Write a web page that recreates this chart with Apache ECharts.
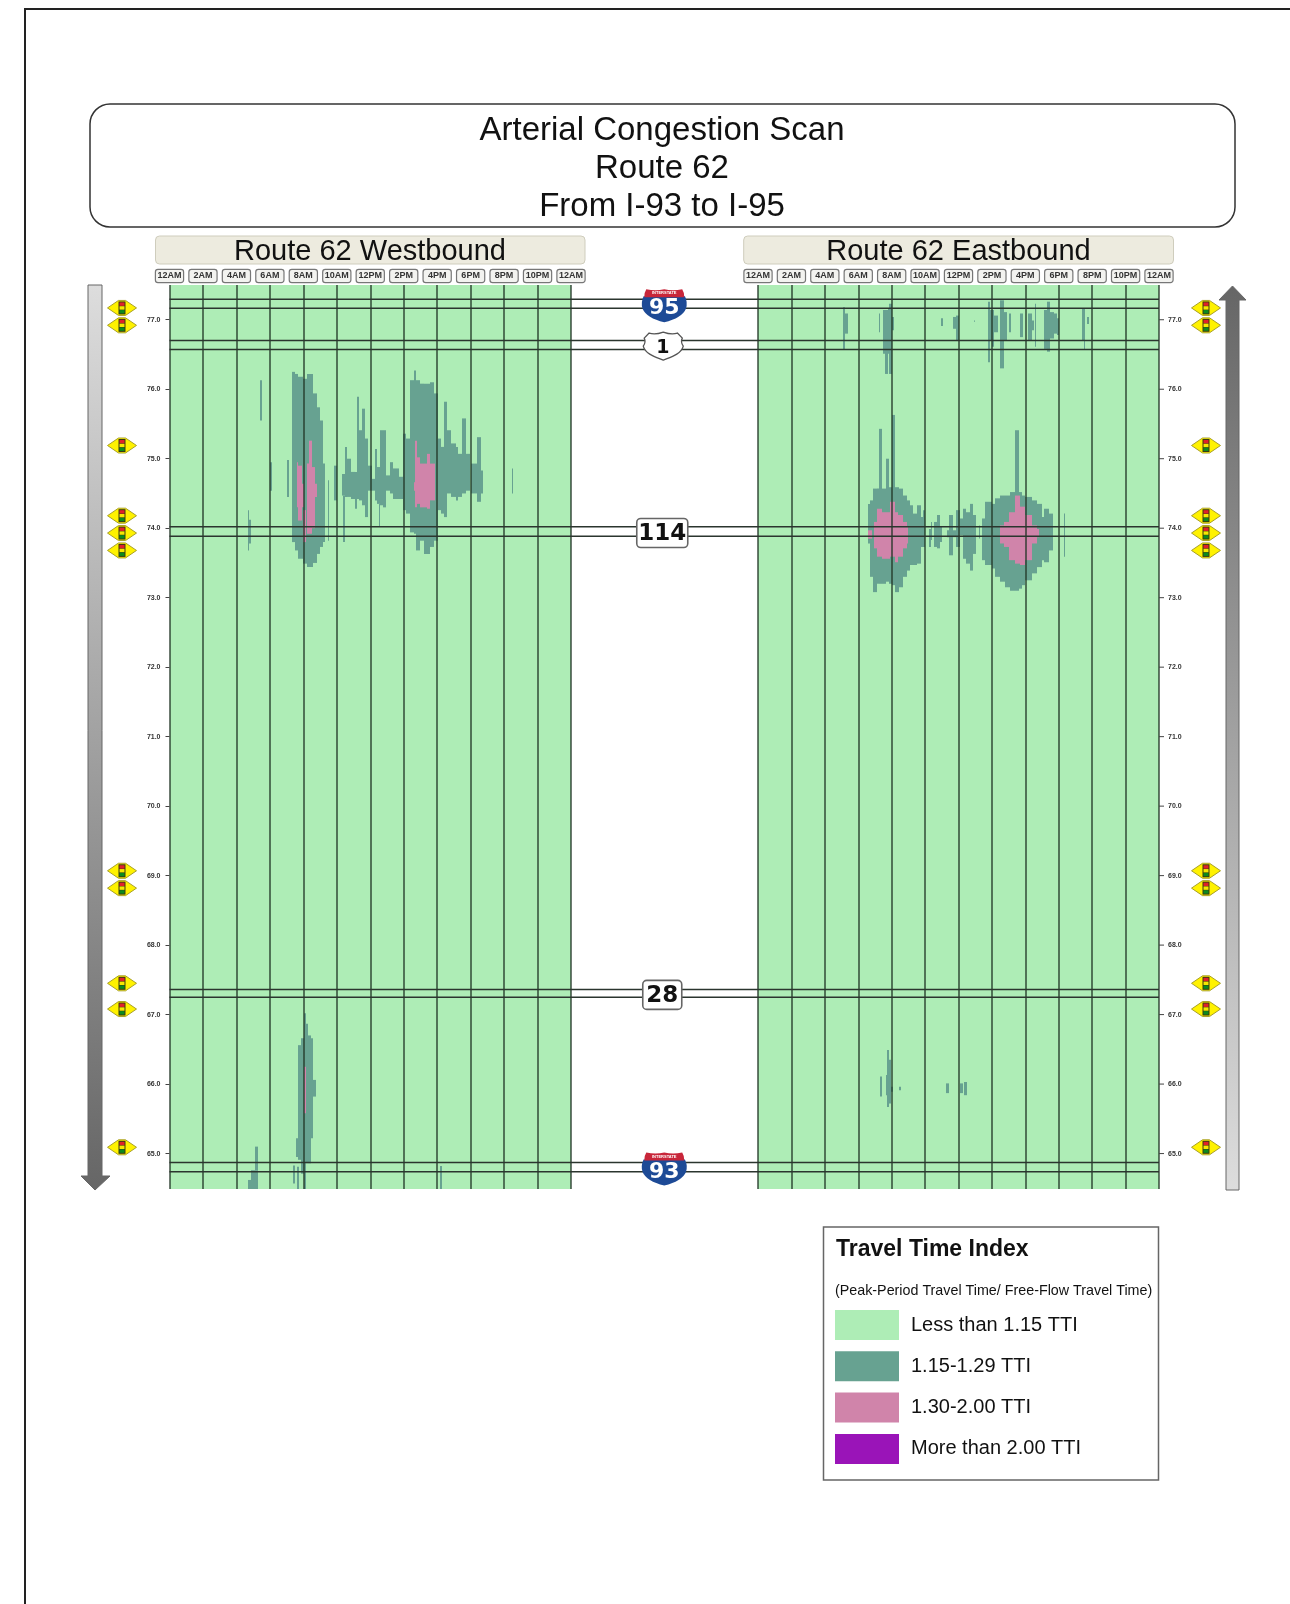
<!DOCTYPE html>
<html>
<head>
<meta charset="utf-8">
<script src="https://cdn.jsdelivr.net/npm/echarts@6/dist/echarts.min.js"></script>
<style>html,body{margin:0;padding:0;background:#fff}#c{width:1290px;height:1604px;filter:blur(0.45px)}</style>
</head>
<body>
<div id="c"></div>
<script>
// Axis values
const timeLabels = ['12AM','2AM','4AM','6AM','8AM','10AM','12PM','2PM','4PM','6PM','8PM','10PM','12AM'];
const mileTicks = [65,66,67,68,69,70,71,72,73,74,75,76,77];
const mileMin = 64.49, mileMax = 77.5;

// Each record: [hour start, hour end, milepost low, milepost high]
const wbFree = [[0,24,mileMin,mileMax]];
const ebFree = [[0,24,mileMin,mileMax]];
const wbTeal = [
[4.7,4.78,73.68,74.26],[4.78,4.85,73.78,74.12],[5.4,5.5,75.55,76.13],[6.0,6.1,74.54,74.95],
[7.0,7.16,74.45,74.98],[7.3,7.5,73.80,76.25],[7.5,7.7,73.68,76.22],[7.7,8.0,73.56,76.18],[8.0,8.2,73.49,76.15],
[8.2,8.6,73.44,76.22],[8.6,8.8,73.50,75.94],[8.8,9.0,73.63,75.74],[9.0,9.15,73.73,75.55],[9.15,9.3,73.80,74.93],
[9.46,9.56,73.82,74.69],[9.84,10.04,74.40,74.90],[10.32,10.48,74.47,74.78],[10.4,10.52,73.80,74.47],
[10.48,10.64,74.45,75.17],[10.64,10.84,74.45,75.0],[10.84,11.1,74.42,74.81],[11.1,11.2,74.28,74.81],
[11.2,11.32,74.42,75.89],[11.32,11.5,74.40,75.41],[11.5,11.7,74.33,75.72],[11.7,11.84,74.16,75.29],
[11.84,12.1,74.54,74.90],[12.1,12.3,74.54,74.71],[12.3,12.4,74.40,75.14],[12.4,12.6,74.35,74.88],
[12.5,12.6,74.02,74.35],[12.6,12.76,74.33,75.41],[12.76,12.96,74.30,75.41],[12.96,13.16,74.54,74.76],
[13.16,13.36,74.50,74.95],[13.36,13.7,74.42,74.86],[13.7,13.96,74.42,74.74],[13.96,14.12,74.26,75.36],
[14.12,14.36,74.21,75.29],[14.36,14.6,73.94,76.13],[14.6,14.76,73.92,76.27],[14.76,15.0,73.68,76.13],
[15.0,15.2,73.82,76.08],[15.2,15.6,73.63,76.08],[15.6,15.8,73.73,76.10],[15.8,16.04,73.82,75.94],
[16.04,16.2,74.26,75.29],[16.2,16.4,74.21,75.17],[16.4,16.6,74.16,75.82],[16.6,16.84,74.50,75.41],
[16.84,17.1,74.45,75.22],[17.1,17.24,74.40,75.17],[17.24,17.5,74.45,75.07],[17.5,17.7,74.50,75.58],
[17.7,17.96,74.54,75.07],[18.04,18.4,74.50,74.93],[18.4,18.6,74.38,75.31],[18.6,18.76,74.50,74.83],
[20.45,20.55,74.50,74.86],
[7.56,7.7,64.95,65.22],[7.7,7.84,64.91,66.56],[7.84,8.04,64.71,66.66],[8.04,8.16,64.49,67.02],[8.16,8.3,64.86,66.87],
[8.3,8.44,64.86,66.70],[8.44,8.56,65.22,66.66],[8.56,8.74,65.82,66.06],[7.4,7.52,64.57,64.83],[7.6,7.72,64.49,64.81],
[5.1,5.3,64.76,65.10],[4.9,5.3,64.49,64.76],[4.7,4.9,64.49,64.62],[16.14,16.26,64.49,64.82]
];
const wbPink = [
[7.6,7.7,74.30,74.95],[7.7,7.9,74.11,74.90],[7.9,8.04,74.30,74.64],[8.0,8.16,73.80,74.26],[8.2,8.36,73.92,74.93],
[8.36,8.52,73.92,75.26],[8.52,8.72,74.0,74.88],[8.72,8.84,74.45,74.64],[14.6,14.66,74.54,74.66],[14.66,14.8,74.30,75.26],
[14.8,15.0,74.35,75.02],[15.0,15.4,74.30,74.93],[15.4,15.6,74.28,75.07],[15.6,15.9,74.40,74.93],[8.04,8.16,65.58,66.25]
];
const ebTeal = [
[6.56,6.7,73.78,74.35],[6.7,6.9,73.30,74.40],[6.9,7.1,73.08,74.57],[7.1,7.26,73.20,74.57],[7.26,7.4,73.20,75.43],
[7.4,7.66,73.20,74.57],[7.66,7.84,73.23,75.0],[7.84,8.0,73.20,74.59],[8.0,8.2,73.18,75.63],[8.2,8.46,73.08,74.59],
[8.46,8.7,73.15,74.57],[8.7,8.9,73.30,74.47],[8.9,9.1,73.39,74.40],[9.1,9.3,73.47,74.33],[9.3,9.54,73.47,74.21],
[9.54,9.74,73.49,74.33],[9.74,9.86,73.73,74.16],[9.9,10.0,73.73,74.26],[10.26,10.34,73.73,73.99],[10.34,10.42,73.83,74.09],
[10.56,10.7,73.73,74.09],[10.7,10.9,73.71,74.19],[10.9,11.02,73.80,74.02],[11.3,11.46,73.87,73.97],[11.46,11.7,73.61,74.19],
[11.7,11.86,73.87,73.97],[11.86,12.06,73.73,74.26],[12.06,12.26,73.90,74.14],[12.26,12.46,73.56,74.28],[12.46,12.7,73.49,74.23],
[12.7,12.86,73.39,74.35],[12.86,13.06,73.63,74.19],[13.2,13.3,73.85,74.04],[13.4,13.6,73.54,74.14],[13.6,14.0,73.47,74.38],
[14.0,14.2,73.42,74.35],[14.2,14.5,73.30,74.43],[14.5,14.8,73.23,74.47],[14.8,15.1,73.15,74.47],[15.1,15.4,73.10,74.52],
[15.4,15.6,73.10,75.41],[15.6,15.8,73.13,74.52],[15.8,16.0,73.18,74.47],[16.0,16.4,73.25,74.45],[16.4,16.7,73.35,74.40],
[16.7,17.0,73.44,74.35],[17.0,17.14,73.54,74.16],[17.14,17.4,73.51,74.28],[17.4,17.64,73.68,74.21],[18.3,18.4,73.59,74.21],
[5.06,5.2,76.58,77.18],[5.2,5.38,76.80,77.09],[7.22,7.32,76.82,77.09],[7.46,7.6,76.51,77.14],[7.6,7.8,76.22,77.14],
[7.8,7.86,76.51,77.16],[7.86,8.0,76.22,77.23],[8.0,8.14,76.85,77.04],[10.96,11.06,76.91,77.02],[11.66,11.86,76.87,77.04],
[11.86,12.02,76.70,77.06],[12.9,12.96,76.97,76.99],[13.74,13.86,76.39,77.26],[13.86,14.0,76.70,77.14],[14.0,14.1,76.61,77.14],
[14.1,14.36,76.82,77.06],[14.5,14.74,76.30,77.28],[14.74,14.9,76.70,77.11],[15.04,15.16,76.82,77.09],[15.7,15.86,76.75,77.09],
[16.14,16.42,76.70,77.09],[16.42,16.5,76.85,76.99],[16.56,16.66,76.61,77.23],[17.1,17.3,76.58,77.14],[17.3,17.5,76.54,77.26],
[17.5,17.74,76.73,77.11],[17.74,17.9,76.80,77.09],[17.9,18.02,76.78,77.02],[19.4,19.5,76.70,77.16],[19.5,19.6,76.58,77.16],
[19.7,19.82,76.94,77.04],
[7.3,7.4,65.82,66.11],[7.66,7.78,65.84,66.13],[7.74,7.86,65.67,66.49],[7.78,7.94,65.72,66.35],[7.94,8.06,65.89,65.96],
[8.46,8.58,65.91,65.96],[11.26,11.42,65.87,66.01],[12.1,12.24,65.87,66.01],[12.34,12.5,65.84,66.03]
];
const ebPink = [
[6.6,6.8,73.85,73.97],[6.96,7.1,73.71,74.09],[7.1,7.4,73.59,74.28],[7.4,7.9,73.56,74.23],[7.9,8.2,73.59,74.38],
[8.2,8.4,73.51,74.23],[8.4,8.7,73.59,74.19],[8.7,8.9,73.71,74.09],[8.9,9.0,73.78,74.02],[14.5,14.7,73.78,74.04],
[14.7,15.0,73.73,74.09],[15.0,15.4,73.54,74.23],[15.4,15.66,73.49,74.47],[15.66,16.0,73.47,74.31],[16.0,16.4,73.54,74.19],
[16.4,16.7,73.78,74.04],[16.7,16.84,73.87,73.99]
];
const severeData = [];

const signalMileposts = [77.17,76.92,75.19,74.18,73.93,73.68,69.07,68.82,67.45,67.08,65.09];
const roadNames = ['95','1','114','28','93'];
const roadKinds = ['interstate','us','state','state','interstate'];
const roadNorth = [77.295,76.70,74.02,67.36,64.87];
const roadSouth = [77.165,76.57,73.885,67.25,64.74];

const levelNames = ['Less than 1.15 TTI','1.15-1.29 TTI','1.30-2.00 TTI','More than 2.00 TTI'];
const levelColors = ['#AEEDB6','#67A291','#D084AA','#9A14B8'];

const FONT = '"Liberation Sans", Arial, sans-serif';
const chart = echarts.init(document.getElementById('c'), null, {renderer:'canvas', width:1290, height:1604});

function renderBand(params, api){
  const a = api.coord([api.value(0), api.value(3)]);
  const b = api.coord([api.value(1), api.value(2)]);
  const x0 = Math.round(a[0]), x1 = Math.max(x0+1, Math.round(b[0]));
  return {type:'rect', shape:{x:x0, y:a[1], width:x1-x0, height:b[1]-a[1]}, style:{fill:api.visual('color')}};
}
function band(level, data, idx){
  return {type:'custom', name:levelNames[level], xAxisIndex:idx, yAxisIndex:idx, data:data,
    encode:{x:[0,1], y:[2,3]}, renderItem:renderBand, itemStyle:{color:levelColors[level]},
    z:level+1, silent:true, clip:true, animation:false};
}
function renderSignal(dx, hour){
  return function(params, api){
    const p = api.coord([hour, api.value(0)]);
    const x = p[0]+dx, y = p[1];
    return {type:'group', children:[
      {type:'polygon', shape:{points:[[x-14.5,y],[x-3.5,y-7.5],[x+3.5,y-7.5],[x+14.5,y],[x+3.5,y+7.5],[x-3.5,y+7.5]]}, style:{fill:'#FFF200', stroke:'#A8A028', lineWidth:1}},
      {type:'rect', shape:{x:x-3.5,y:y-6.5,width:7,height:13}, style:{fill:'#3a3a10'}},
      {type:'rect', shape:{x:x-2.5,y:y-5.5,width:5,height:3.4}, style:{fill:'#E0202A'}},
      {type:'rect', shape:{x:x-2.5,y:y-1.7,width:5,height:3.4}, style:{fill:'#F5E800'}},
      {type:'rect', shape:{x:x-2.5,y:y+2.1,width:5,height:3.4}, style:{fill:'#0C8A1E'}}
    ]};
  };
}
function signal(idx, dx, hour){
  return {type:'custom', xAxisIndex:idx, yAxisIndex:idx, data:signalMileposts.map(v=>[v]),
    encode:{y:0}, renderItem:renderSignal(dx,hour), z:8, silent:true, clip:false, animation:false};
}
function renderRightTick(params, api){
  const p = api.coord([24, api.value(0)]);
  return {type:'line', shape:{x1:p[0], y1:p[1], x2:p[0]+5, y2:p[1]}, style:{stroke:'#444', lineWidth:1}};
}
const interstateBody = 'M2 8 L43 8 Q46 14 44 20 Q40 29 22.5 33 Q5 29 1 20 Q-1 14 2 8 Z';
const interstateTop = 'M3 8 Q3 3 5 0 Q14 2 22.5 0 Q31 2 40 0 Q42 3 42 8 Z';
const usShield = 'M6 1 Q12 3 20.5 0 Q29 3 35 1 L40 6 Q38 10 41 14 C39 22 28 25 20.5 28 C13 25 2 22 0 14 Q3 10 1 6 Z';
function renderRoad(params, api){
  const i = params.dataIndex;
  const n = api.coord([0, api.value(0)]), s = api.coord([0, api.value(1)]);
  const right = api.coord([1, api.value(0)])[0];
  const cx = api.coord([0.4985, api.value(0)])[0];
  const cy = (n[1]+s[1])/2;
  const line = y => ({type:'line', shape:{x1:n[0],y1:y,x2:right,y2:y}, style:{stroke:'#2b352e', lineWidth:1.5}});
  const kids = [line(n[1]), line(s[1])];
  const kind = roadKinds[i], name = roadNames[i];
  if(kind==='interstate'){
    const top = cy-14.5, ix = cx+1.5;
    kids.push({type:'path', shape:{pathData:interstateBody, x:ix-22.5, y:top+7, width:45, height:26, layout:'cover'}, style:{fill:'#1D4A96'}});
    kids.push({type:'path', shape:{pathData:interstateTop, x:ix-20, y:top, width:40, height:8, layout:'cover'}, style:{fill:'#C8263A'}});
    kids.push({type:'text', x:ix, y:top+4, style:{text:'INTERSTATE', fill:'#fff', font:'bold 4px '+FONT, align:'center', verticalAlign:'middle'}});
    kids.push({type:'text', x:ix, y:top+19.5, style:{text:name, fill:'#fff', font:'bold 22px "DejaVu Sans", sans-serif', align:'center', verticalAlign:'middle'}});
  } else if(kind==='us'){
    kids.push({type:'path', shape:{pathData:usShield, x:cx-19.5, y:cy-13, width:40, height:28, layout:'cover'}, style:{fill:'#fff', stroke:'#555', lineWidth:1.3}});
    kids.push({type:'text', x:cx, y:cy+3, style:{text:name, fill:'#111', font:'bold 19px "DejaVu Sans", sans-serif', align:'center', verticalAlign:'middle'}});
  } else {
    const w = name.length>2 ? 51 : 39;
    kids.push({type:'rect', shape:{x:cx-w/2-0.5, y:cy-13, width:w, height:29, r:4}, style:{fill:'#fff', stroke:'#666', lineWidth:1.6}});
    kids.push({type:'text', x:cx-0.5, y:cy+3, style:{text:name, fill:'#111', font:'bold 23px "DejaVu Sans", sans-serif', align:'center', verticalAlign:'middle'}});
  }
  return {type:'group', children:kids};
}

function xAxisFor(idx){
  return {gridIndex:idx, type:'value', position:'top', min:0, max:24, interval:2, z:4,
    axisLine:{show:false}, axisTick:{show:false},
    splitLine:{show:true, lineStyle:{color:'rgba(32,52,38,0.88)', width:1.5}},
    axisLabel:{show:true, margin:3, formatter:v=>timeLabels[v/2], fontFamily:FONT, fontSize:9, fontWeight:'bold', color:'#333',
      width:27, height:10, lineHeight:10, align:'center', overflow:'none', backgroundColor:'#F3F3F0', borderColor:'#777', borderWidth:1.2, borderRadius:2, padding:[1,0,1,0]}};
}
function yAxisFor(idx, pos, ticks){
  return {gridIndex:idx, type:'value', position:pos, min:mileMin, max:mileMax, z:4,
    axisLine:{show:false}, splitLine:{show:false},
    axisTick:ticks ? {show:true, length:4, customValues:mileTicks, lineStyle:{color:'#444', width:1}} : {show:false},
    axisLabel:{show:true, customValues:mileTicks, margin:9, formatter:v=>v.toFixed(1), fontFamily:FONT, fontSize:7, fontWeight:'bold', color:'#333'}};
}
const grad = (c0,c1)=>new echarts.graphic.LinearGradient(0,0,0,1,[{offset:0,color:c0},{offset:1,color:c1}]);

chart.setOption({
  animation:false,
  backgroundColor:'#fff',
  grid:[
    {left:169.5, top:285, width:401.5, height:904},
    {left:758, top:285, width:401, height:904},
    {left:169.5, top:285, width:989.5, height:904}
  ],
  xAxis:[xAxisFor(0), xAxisFor(1),
    {gridIndex:2, type:'value', min:0, max:1, show:false}],
  yAxis:[yAxisFor(0,'left',true), yAxisFor(1,'right',false),
    {gridIndex:2, type:'value', min:mileMin, max:mileMax, show:false}],
  title:[
    {text:'Arterial Congestion Scan\nRoute 62\nFrom I-93 to I-95', left:662, top:112, padding:0, textAlign:'center',
      textStyle:{fontFamily:FONT, fontSize:33, fontWeight:'normal', color:'#111', lineHeight:38}},
    {text:'Route 62 Westbound', left:370, top:234, padding:0, textAlign:'center',
      textStyle:{fontFamily:FONT, fontSize:29, fontWeight:'normal', color:'#111', lineHeight:36}},
    {text:'Route 62 Eastbound', left:958.5, top:234, padding:0, textAlign:'center',
      textStyle:{fontFamily:FONT, fontSize:29, fontWeight:'normal', color:'#111', lineHeight:36}},
    {text:'Travel Time Index', left:836, top:1238, padding:0,
      textStyle:{fontFamily:FONT, fontSize:23, fontWeight:'bold', color:'#111', lineHeight:24}},
    {text:'(Peak-Period Travel Time/ Free-Flow Travel Time)', left:835, top:1282, padding:0,
      textStyle:{fontFamily:FONT, fontSize:14.3, fontWeight:'normal', color:'#111', lineHeight:18}}
  ],
  legend:{orient:'vertical', left:835, top:1310, padding:0, itemWidth:64, itemHeight:30, itemGap:11.3, icon:'rect', selectedMode:false,
    data:levelNames, itemStyle:{borderWidth:0},
    textStyle:{fontFamily:FONT, fontSize:20, color:'#111', padding:[9,0,0,7]}},
  graphic:[
    {type:'rect', shape:{x:25,y:9,width:1500,height:1900}, style:{fill:'none', stroke:'#222', lineWidth:2}},
    {type:'rect', shape:{x:90,y:104,width:1145,height:123,r:20}, style:{fill:'#fff', stroke:'#333', lineWidth:1.5}},
    {type:'rect', shape:{x:155.5,y:236,width:429.5,height:28,r:4}, style:{fill:'#EDEBDF', stroke:'#CFCDBD', lineWidth:1}},
    {type:'rect', shape:{x:743.7,y:236,width:429.8,height:28,r:4}, style:{fill:'#EDEBDF', stroke:'#CFCDBD', lineWidth:1}},
    {type:'polygon', shape:{points:[[88,285],[102,285],[102,1176],[110,1176],[95,1190],[81,1176],[88,1176]]},
      style:{fill:grad('#DDDDDD','#666666'), stroke:'#666', lineWidth:1}},
    {type:'polygon', shape:{points:[[1226,1190],[1239,1190],[1239,300],[1246,300],[1232.5,286],[1219,300],[1226,300]]},
      style:{fill:grad('#666666','#DDDDDD'), stroke:'#666', lineWidth:1}},
    {type:'rect', shape:{x:823.5,y:1227,width:335,height:253}, style:{fill:'#fff', stroke:'#666', lineWidth:1.5}}
  ],
  series:[
    band(0, wbFree, 0), band(1, wbTeal, 0), band(2, wbPink, 0), band(3, severeData, 0),
    band(0, ebFree, 1), band(1, ebTeal, 1), band(2, ebPink, 1), band(3, severeData, 1),
    signal(0, -47.5, 0), signal(1, 47, 24),
    {type:'custom', xAxisIndex:1, yAxisIndex:1, data:mileTicks.map(v=>[v]), encode:{y:0},
      renderItem:renderRightTick, z:6, silent:true, clip:false, animation:false},
    {type:'custom', xAxisIndex:2, yAxisIndex:2, data:roadNorth.map((v,i)=>[v,roadSouth[i]]), encode:{y:[0,1]},
      renderItem:renderRoad, z:7, silent:true, clip:false, animation:false}
  ]
});
</script>
</body>
</html>
